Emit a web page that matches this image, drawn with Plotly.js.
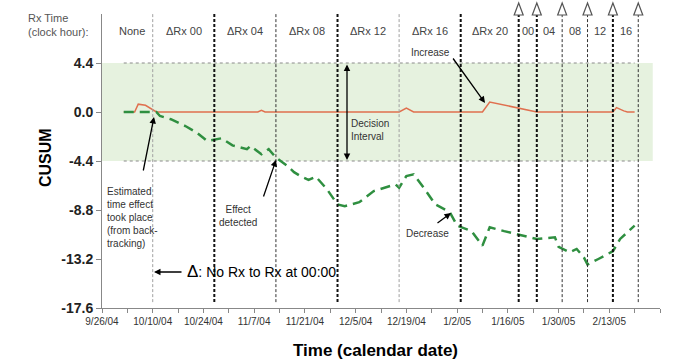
<!DOCTYPE html>
<html>
<head>
<meta charset="utf-8">
<script src="https://cdn.plot.ly/plotly-3.0.1.min.js"></script>
<style>html,body{margin:0;padding:0;background:#fff;}#chart{width:675px;height:364px;}</style>
</head>
<body>
<div id="chart"></div>
<script>
// ---- data ----
const greenDates = ['2004-10-02','2004-10-11','2004-10-12','2004-10-15','2004-10-19','2004-10-22','2004-10-25','2004-10-29','2004-11-01','2004-11-05','2004-11-06','2004-11-09','2004-11-11','2004-11-13','2004-11-16','2004-11-18','2004-11-20','2004-11-22','2004-11-24','2004-11-27','2004-11-30','2004-12-02','2004-12-06','2004-12-10','2004-12-16','2004-12-17','2004-12-19','2004-12-21','2004-12-24','2004-12-27','2004-12-31','2005-01-02','2005-01-04','2005-01-06','2005-01-09','2005-01-11','2005-01-15','2005-01-19','2005-01-24','2005-01-29','2005-01-30','2005-02-02','2005-02-04','2005-02-06','2005-02-07','2005-02-10','2005-02-14','2005-02-16','2005-02-20'];
const greenValues = [0,0,-0.36,-0.65,-1.26,-1.82,-2.6,-2.36,-3.0,-3.34,-3.05,-3.8,-3.34,-4.1,-4.8,-5.4,-5.8,-6.1,-5.8,-6.9,-8.3,-8.45,-8.1,-7.1,-6.5,-6.8,-5.75,-5.6,-6.9,-8.3,-9.0,-10.2,-10.45,-10.7,-12.0,-10.35,-10.7,-11.0,-11.4,-11.25,-12.1,-12.6,-12.3,-13.05,-13.7,-13.2,-12.5,-11.4,-10.2];
const redDates = ['2004-10-02','2004-10-05','2004-10-06','2004-10-08','2004-10-11','2004-11-08','2004-11-09','2004-11-10','2004-12-17','2004-12-19','2004-12-21','2005-01-09','2005-01-11','2005-01-24','2005-02-14','2005-02-15','2005-02-17','2005-02-18','2005-02-20'];
const redValues = [0,0,0.7,0.6,0,0,0.15,0,0,0.35,0,0,0.9,0,0,0.4,0.1,0,0];
const changeDates = ['2004-10-10','2004-10-27','2004-11-13','2004-11-30','2004-12-17','2005-01-03','2005-01-19','2005-01-24','2005-01-31','2005-02-07','2005-02-14','2005-02-21'];
const regionLabels = ['None','ΔRx 00','ΔRx 04','ΔRx 08','ΔRx 12','ΔRx 16','ΔRx 20','00','04','08','12','16'];
const markedChanges = ['2005-01-19','2005-01-24','2005-01-31','2005-02-07','2005-02-14','2005-02-21'];
const xTickDates = ['2004-09-26','2004-10-10','2004-10-24','2004-11-07','2004-11-21','2004-12-05','2004-12-19','2005-01-02','2005-01-16','2005-01-30','2005-02-13','2005-02-27'];
const xTickLabels = ['9/26/04','10/10/04','10/24/04','11/7/04','11/21/04','12/5/04','12/19/04','1/2/05','1/16/05','1/30/05','2/13/05','2/27/05'];
const yTickValues = [4.4,0,-4.4,-8.8,-13.2,-17.6];
const yTickLabels = ['4.4','0.0','-4.4','-8.8','-13.2','-17.6'];
const decisionLimit = 4.4;
const xStart = '2004-09-26', xEnd = '2005-02-27';
const bandStart = '2004-09-26', bandEnd = '2005-02-25';
const limitLineStart = '2004-10-02', limitLineEnd = '2005-02-20';

// ---- styles ----
const lineStyles = ['gray','bold','thin','bold','gray','bold','bold','bold','thin','thin','bold','thin'];
const styleMap = {
  gray: {color:'#a0a0a0', width:1, dash:'3px,2px'},
  thin: {color:'#333', width:1, dash:'3px,2px'},
  bold: {color:'#111', width:2, dash:'3px,2px'}
};
const W = 675, H = 364, L = 102, R = 15, T = 14, B = 56;
const pw = W - L - R, ph = H - T - B;
const PX = px => (px - L) / pw;
const PY = py => (H - B - py) / ph;
const FONT = 'Arial, "Liberation Sans", sans-serif';

const shapes = [];
shapes.push({type:'rect', layer:'below', xref:'x', yref:'y', x0:bandStart, x1:bandEnd, y0:-decisionLimit, y1:decisionLimit, fillcolor:'#e6f2df', line:{width:0}});
[decisionLimit, -decisionLimit].forEach(v => shapes.push({type:'line', layer:'below', xref:'x', yref:'y', x0:limitLineStart, x1:limitLineEnd, y0:v, y1:v, line:{color:'#8a8a8a', width:1, dash:'dot'}}));
changeDates.forEach((d, i) => {
  shapes.push({type:'line', xref:'x', yref:'paper', x0:d, x1:d, y0:0.02, y1:1, line:styleMap[lineStyles[i]]});
});
// open triangles on top of the marked change lines
markedChanges.forEach(d => {
  shapes.push({type:'path', xref:'x', yref:'paper', xsizemode:'pixel', ysizemode:'pixel', xanchor:d, yanchor:1,
    path:'M-4.5,-1L4.5,-1L0,11Z', fillcolor:'#fff', line:{color:'#555', width:1.2}});
});

const annotations = [];
// region labels
const bounds = [xStart].concat(changeDates);
regionLabels.forEach((t, i) => {
  const a = new Date(bounds[i]).getTime(), b = new Date(bounds[i+1]).getTime();
  const mid = new Date((a + b) / 2).toISOString().slice(0, 19).replace('T', ' ');
  annotations.push({text:t, xref:'x', yref:'paper', x:mid, y:PY(31), xshift: i === 0 ? 5 : 0, showarrow:false, xanchor:'center', yanchor:'middle', font:{family:FONT, size:11, color:'#444'}});
});
annotations.push({text:'Rx Time<br>(clock hour):', xref:'paper', yref:'paper', x:PX(26), y:PY(10), xanchor:'left', yanchor:'top', align:'left', showarrow:false, font:{family:FONT, size:11, color:'#555'}});
annotations.push({text:'Estimated<br>time effect<br>took place<br>(from back-<br>tracking)', xref:'paper', yref:'paper', x:PX(105), y:PY(184), xanchor:'left', yanchor:'top', align:'left', showarrow:false, font:{family:FONT, size:10, color:'#333'}});
annotations.push({text:'', xref:'paper', yref:'paper', x:PX(154), y:PY(117), ax:-11, ay:55, showarrow:true, arrowhead:2, arrowsize:1, arrowwidth:1.3, arrowcolor:'#000'});
annotations.push({text:'Effect<br>detected', xref:'paper', yref:'paper', x:PX(238), y:PY(216), xanchor:'center', yanchor:'middle', align:'center', showarrow:false, font:{family:FONT, size:10, color:'#333'}});
annotations.push({text:'', xref:'paper', yref:'paper', x:PX(276), y:PY(160), ax:-13, ay:38, showarrow:true, arrowhead:2, arrowsize:1, arrowwidth:1.3, arrowcolor:'#000'});
annotations.push({text:'Decision<br>Interval', xref:'paper', yref:'paper', x:PX(349), y:PY(130), xanchor:'left', yanchor:'middle', align:'left', showarrow:false, font:{family:FONT, size:10, color:'#333'}});
annotations.push({text:'', xref:'paper', yref:'paper', x:PX(347), y:PY(160), ax:0, ay:-97, showarrow:true, arrowside:'end+start', arrowhead:2, arrowsize:1, arrowwidth:1.3, arrowcolor:'#000'});
annotations.push({text:'Increase', xref:'paper', yref:'paper', x:PX(430), y:PY(52), xanchor:'center', yanchor:'middle', showarrow:false, font:{family:FONT, size:10, color:'#333'}});
annotations.push({text:'', xref:'paper', yref:'paper', x:PX(485), y:PY(103), ax:-33, ay:-46, showarrow:true, arrowhead:2, arrowsize:1, arrowwidth:1.3, arrowcolor:'#000'});
annotations.push({text:'Decrease', xref:'paper', yref:'paper', x:PX(427), y:PY(233), xanchor:'center', yanchor:'middle', showarrow:false, font:{family:FONT, size:10, color:'#333'}});
annotations.push({text:'', xref:'paper', yref:'paper', x:PX(451), y:PY(213), ax:-15, ay:11, showarrow:true, arrowhead:2, arrowsize:1, arrowwidth:1.3, arrowcolor:'#000'});
annotations.push({text:'<span style="font-size:17px">Δ</span>: No Rx to Rx at 00:00', xref:'paper', yref:'paper', x:PX(185), y:PY(271), xanchor:'left', yanchor:'middle', showarrow:false, font:{family:FONT, size:14, color:'#000'}});
annotations.push({text:'', xref:'paper', yref:'paper', x:PX(154), y:PY(272), ax:29, ay:0, showarrow:true, arrowhead:2, arrowsize:1, arrowwidth:1.3, arrowcolor:'#000'});
annotations.push({text:'<b>CUSUM</b>', xref:'paper', yref:'paper', x:PX(45), y:PY(157), textangle:-90, xanchor:'center', yanchor:'middle', showarrow:false, font:{family:FONT, size:16, color:'#000'}});
annotations.push({text:'<b>Time (calendar date)</b>', xref:'paper', yref:'paper', x:PX(375), y:PY(350), xanchor:'center', yanchor:'middle', showarrow:false, font:{family:FONT, size:17, color:'#000'}});

const traces = [
  {x:redDates, y:redValues, type:'scatter', mode:'lines', line:{color:'#e0704f', width:1.5}, hoverinfo:'skip'},
  {x:greenDates, y:greenValues, type:'scatter', mode:'lines', line:{color:'#2f8f40', width:2.5, dash:'10px,6px'}, hoverinfo:'skip'}
];

const layout = {
  width:W, height:H, margin:{l:L, r:R, t:T, b:B, pad:0},
  paper_bgcolor:'#fff', plot_bgcolor:'#fff', showlegend:false,
  font:{family:FONT},
  xaxis:{type:'date', range:[xStart, xEnd], showgrid:false, zeroline:false, showline:true, linecolor:'#888', linewidth:1,
    tickvals:xTickDates, ticktext:xTickLabels, ticks:'outside', ticklen:4, tickcolor:'#888',
    tickfont:{family:FONT, size:10, color:'#333'},
    minor:{tick0:xStart, dtick:7*86400000, ticks:'outside', ticklen:4, tickcolor:'#888', showgrid:false}},
  yaxis:{range:[-17.6, 8.8], showgrid:false, zeroline:false, showline:true, linecolor:'#888', linewidth:1,
    tickvals:yTickValues, ticktext:yTickLabels, ticks:'outside', ticklen:5, tickcolor:'#888',
    tickfont:{family:FONT, size:14, color:'#222', weight:'bold'}},
  shapes:shapes, annotations:annotations
};
Plotly.newPlot('chart', traces, layout, {staticPlot:true, displayModeBar:false});
</script>
</body>
</html>
